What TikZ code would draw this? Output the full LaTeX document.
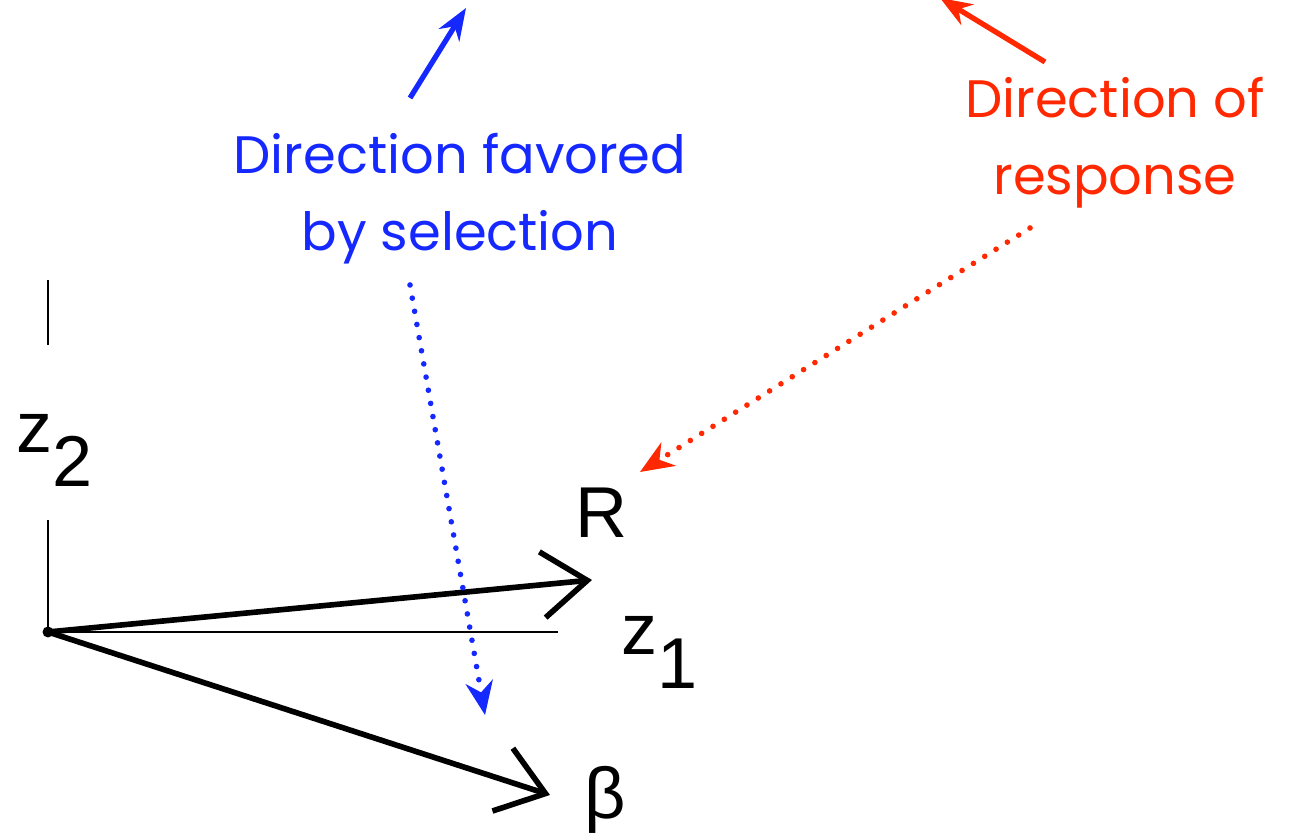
\documentclass[tikz,border=0pt]{standalone}
\usepackage{fontspec}
\setmainfont{Liberation Sans}
\newfontfamily\notefont{Poppins}
\usetikzlibrary{arrows.meta}
\definecolor{selblue}{RGB}{20,40,255}
\definecolor{respred}{RGB}{255,40,0}
\begin{document}
\begin{tikzpicture}[
    axis/.style={line width=0.6pt},
    vec/.style={line width=1.6pt,-{Straight Barb[length=0.45cm,width=0.66cm,line width=1.6pt]}},
    label/.style={inner sep=0pt,anchor=base west,font=\fontsize{20.5}{24}\selectfont},
    note/.style={align=center,font=\notefont\fontsize{15}{22}\selectfont},
    pointer/.style={line width=1.5pt,-{Stealth[length=0.32cm,width=0.24cm]}},
    dotline/.style={line width=1.6pt,line cap=round,dash pattern=on 0pt off 3.8pt,-{Stealth[length=0.34cm,width=0.28cm,line width=0pt]}}
]
    \clip (0,0) rectangle (12.91,8.35);

    % axes
    \coordinate (O) at (0.48,2.03);
    \coordinate (z2low) at (0.48,3.15);
    \coordinate (z2up) at (0.48,4.90);
    \coordinate (z2top) at (0.48,5.55);
    \coordinate (z1end) at (5.58,2.03);
    \draw [axis] (O) -- (z2low);
    \draw [axis] (z2up) -- (z2top);
    \draw [axis] (O) -- (z1end);
    \fill (O) circle (0.055);

    \node (z2) [label] at (0.16,3.82) {z\raisebox{-0.46em}{2}};
    \node (z1) [label] at (6.21,1.80) {z\raisebox{-0.46em}{1}};

    % response and selection vectors
    \coordinate (Rtip) at (5.92,2.55);
    \coordinate (btip) at (5.50,0.40);
    \node (R) [label] at (5.75,2.97) {R};
    \node (beta) [label] at (5.84,0.16) {β};
    \draw [vec] (O) -- (Rtip);
    \draw [vec] (O) -- (btip);

    % notes
    \node (sel) [note, text=selblue] at (4.60,6.36) {Direction favored\\by selection};
    \node (resp) [note, text=respred] at (11.15,6.92) {Direction of\\response};

    \coordinate (selfrom) at (4.10,7.37);
    \coordinate (selto) at (4.66,8.27);
    \coordinate (seldot) at (4.10,5.50);
    \coordinate (selhit) at (4.85,1.20);
    \draw [pointer, selblue] (selfrom) -- (selto);
    \draw [dotline, selblue] (seldot) -- (selhit);

    \coordinate (respfrom) at (10.45,7.73);
    \coordinate (respto) at (9.40,8.37);
    \coordinate (respdot) at (10.30,6.07);
    \coordinate (resphit) at (6.40,3.63);
    \draw [pointer, respred] (respfrom) -- (respto);
    \draw [dotline, respred] (respdot) -- (resphit);
\end{tikzpicture}
\end{document}
